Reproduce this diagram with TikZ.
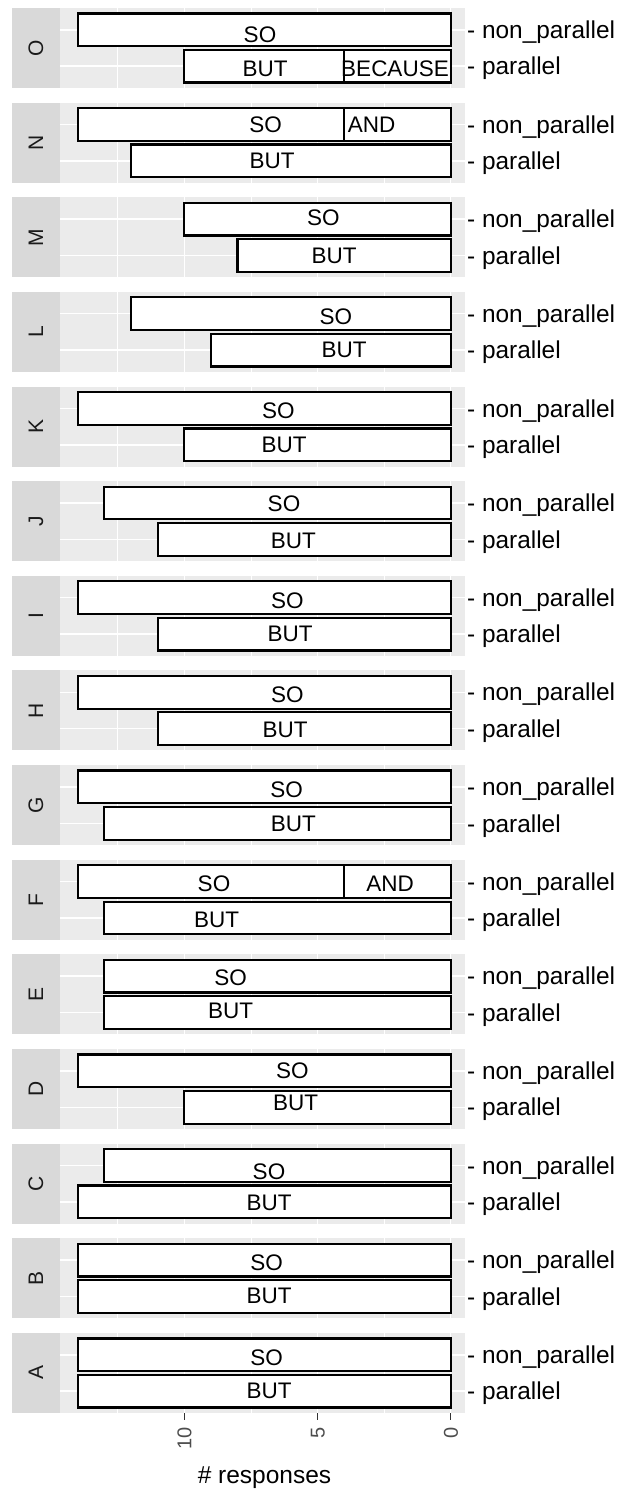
\documentclass[tikz,border=0pt]{standalone}
\usepackage{fontspec}
\setmainfont{Liberation Sans}
\definecolor{panelbg}{HTML}{EBEBEB}
\definecolor{stripbg}{HTML}{D9D9D9}
\definecolor{greyA}{HTML}{4D4D4D}
\definecolor{greyB}{HTML}{333333}
\definecolor{greyC}{HTML}{1A1A1A}
\tikzset{
  barbox/.style={draw=black, fill=white, line width=2.2bp},
  barlbl/.style={inner sep=0pt, anchor=base, yshift=-8bp, font=\fontsize{22.5bp}{26bp}\selectfont},
  ylab/.style={inner sep=0pt, anchor=base west, yshift=-8.7bp, font=\fontsize{24.4bp}{28bp}\selectfont, text=black},
  striptxt/.style={inner sep=0pt, anchor=base, rotate=90, font=\fontsize{21bp}{25bp}\selectfont, text=greyC},
  xtick/.style={inner sep=0pt, anchor=base east, rotate=90, font=\fontsize{20bp}{24bp}\selectfont, text=greyA},
  majgrid/.style={draw=white, line width=1.5bp},
  mingrid/.style={draw=white, line width=0.75bp},
  tickline/.style={draw=greyB, line width=1.5bp},
  xtitle/.style={inner sep=0pt, anchor=base, font=\fontsize{24.5bp}{28bp}\selectfont, text=black}
}
\newcommand{\segbar}[4]{%
  \pgfmathsetmacro\yc{8+#1*94.64+ifthenelse(#2==1,21.8,58.2)}%
  \pgfmathsetmacro\xa{450.7-26.64*#3}%
  \pgfmathsetmacro\xb{450.7-26.64*#4}%
  \draw[barbox] (\xa,\yc-16.36) rectangle (\xb,\yc+16.36);%
}
\begin{document}
\begin{tikzpicture}[x=1bp,y=-1bp]
\useasboundingbox (0,0) rectangle (619,1497);
\fill[white] (0,0) rectangle (619,1497);
% panels
\foreach \k/\L in {0/O,1/N,2/M,3/L,4/K,5/J,6/I,7/H,8/G,9/F,10/E,11/D,12/C,13/B,14/A}{
  \pgfmathsetmacro\T{8+\k*94.64}
  \fill[stripbg] (12,\T) rectangle (60,\T+80);
  \node[striptxt] (strip\L) at (43,\T+40) {\L};
  \fill[panelbg] (60,\T) rectangle (464.5,\T+80);
  \foreach \gx in {117.7,250.9,384.1}{\draw[mingrid] (\gx,\T) -- (\gx,\T+80);}
  \foreach \gx in {184.3,317.5,450.7}{\draw[majgrid] (\gx,\T) -- (\gx,\T+80);}
  \draw[majgrid] (60,\T+21.8) -- (464.5,\T+21.8);
  \draw[majgrid] (60,\T+58.2) -- (464.5,\T+58.2);
  \node[ylab] (np\L) at (467,\T+21.8) {- non\_parallel};
  \node[ylab] (pa\L) at (467,\T+58.2) {- parallel};
}
% bars: panel index, level (1 = non_parallel, 2 = parallel), from, to
% O
\segbar{0}{1}{0}{14}
\segbar{0}{2}{4}{10}
\segbar{0}{2}{0}{4}
% N
\segbar{1}{1}{4}{14}
\segbar{1}{1}{0}{4}
\segbar{1}{2}{0}{12}
% M
\segbar{2}{1}{0}{10}
\segbar{2}{2}{0}{8}
% L
\segbar{3}{1}{0}{12}
\segbar{3}{2}{0}{9}
% K
\segbar{4}{1}{0}{14}
\segbar{4}{2}{0}{10}
% J
\segbar{5}{1}{0}{13}
\segbar{5}{2}{0}{11}
% I
\segbar{6}{1}{0}{14}
\segbar{6}{2}{0}{11}
% H
\segbar{7}{1}{0}{14}
\segbar{7}{2}{0}{11}
% G
\segbar{8}{1}{0}{14}
\segbar{8}{2}{0}{13}
% F
\segbar{9}{1}{4}{14}
\segbar{9}{1}{0}{4}
\segbar{9}{2}{0}{13}
% E
\segbar{10}{1}{0}{13}
\segbar{10}{2}{0}{13}
% D
\segbar{11}{1}{0}{14}
\segbar{11}{2}{0}{10}
% C
\segbar{12}{1}{0}{13}
\segbar{12}{2}{0}{14}
% B
\segbar{13}{1}{0}{14}
\segbar{13}{2}{0}{14}
% A
\segbar{14}{1}{0}{14}
\segbar{14}{2}{0}{14}
% bar labels
\node[barlbl] (soO) at (260,35) {SO};
\node[barlbl] (butO) at (265,68.3) {BUT};
\node[barlbl] (becO) at (395,68.3) {BECAUSE};
\node[barlbl] (soN) at (265.7,125) {SO};
\node[barlbl] (andN) at (371.7,125) {AND};
\node[barlbl] (butN) at (272,160.8) {BUT};
\node[barlbl] (soM) at (323.3,217.5) {SO};
\node[barlbl] (butM) at (334,255.8) {BUT};
\node[barlbl] (soL) at (335.8,316.7) {SO};
\node[barlbl] (butL) at (344,349) {BUT};
\node[barlbl] (soK) at (278.3,410) {SO};
\node[barlbl] (butK) at (284,444) {BUT};
\node[barlbl] (soJ) at (284,503.3) {SO};
\node[barlbl] (butJ) at (293.3,540) {BUT};
\node[barlbl] (soI) at (287.3,600) {SO};
\node[barlbl] (butI) at (290,633.3) {BUT};
\node[barlbl] (soH) at (287.3,694) {SO};
\node[barlbl] (butH) at (285,729) {BUT};
\node[barlbl] (soG) at (286.7,789) {SO};
\node[barlbl] (butG) at (293.3,823.3) {BUT};
\node[barlbl] (soF) at (214,883.3) {SO};
\node[barlbl] (andF) at (390,883) {AND};
\node[barlbl] (butF) at (216.7,919) {BUT};
\node[barlbl] (soE) at (230.7,977.3) {SO};
\node[barlbl] (butE) at (230.7,1010.7) {BUT};
\node[barlbl] (soD) at (292.3,1070.7) {SO};
\node[barlbl] (butD) at (295.7,1102.3) {BUT};
\node[barlbl] (soC) at (269,1171.7) {SO};
\node[barlbl] (butC) at (269,1202.3) {BUT};
\node[barlbl] (soB) at (266.7,1262.3) {SO};
\node[barlbl] (butB) at (269,1295.7) {BUT};
\node[barlbl] (soA) at (266.7,1357.3) {SO};
\node[barlbl] (butA) at (269,1390) {BUT};
% x axis
\foreach \gx/\t in {184.3/10,317.5/5,450.7/0}{
  \draw[tickline] (\gx,1413) -- (\gx,1420);
  \node[xtick] (tick\t) at (\gx+7.1,1427) {\t};
}
\node[xtitle] (xtitle) at (264.5,1483) {\# responses};
\end{tikzpicture}
\end{document}
